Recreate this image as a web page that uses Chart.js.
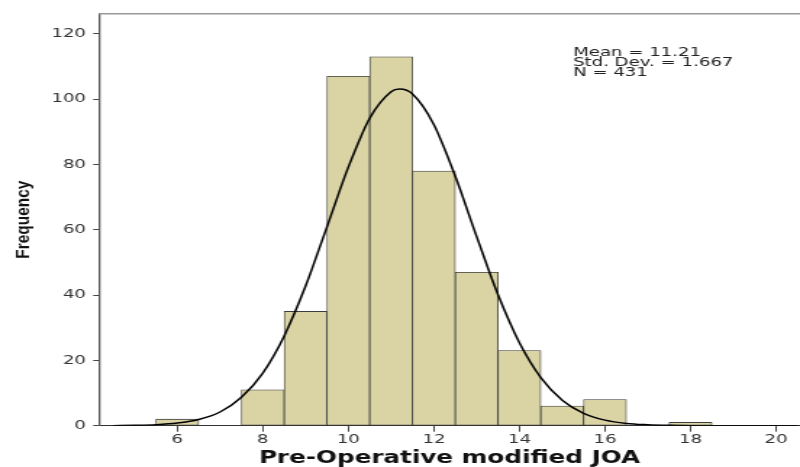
<!DOCTYPE html>
<html>
<head>
<meta charset="utf-8">
<script src="https://cdn.jsdelivr.net/npm/chart.js@4"></script>
<style>
  body { margin: 0; background: #fff; }
</style>
</head>
<body>
<!-- drawn narrow and stretched sideways, like the original export -->
<canvas id="chart" width="552" height="467" style="display:block;width:800px;height:467px"></canvas>
<script>
// histogram bins (centre of each 1-wide bin) and counts
const binCentres = [6, 8, 9, 10, 11, 12, 13, 14, 15, 16, 18];
const binCounts = [2, 11, 35, 107, 113, 78, 47, 23, 6, 8, 1];

// normal curve
const curveX = [4.5, 5, 5.5, 6, 6.5, 7, 7.5, 8, 8.5, 9, 9.5, 10, 10.5, 11, 11.2, 11.5, 12, 12.5,
    13, 13.5, 14, 14.5, 15, 15.5, 16, 16.5, 17, 17.5, 18, 18.5, 19, 19.5, 20, 20.5];
const curveY = [0, 0.1, 0.3, 0.8, 1.9, 4.2, 8.7, 16.1, 27.5, 42.8, 60.9, 79.2, 94.2, 102.3, 103.1, 101.6, 92.2, 76.4,
    57.9, 40.1, 25.4, 14.7, 7.8, 3.8, 1.7, 0.7, 0.3, 0.1, 0, 0, 0, 0, 0, 0];

const statLines = ['Mean = 11.21', 'Std. Dev. = 1.667', 'N = 431'];
const xTitle = 'Pre-Operative modified JOA';
const yTitle = 'Frequency';

const STRETCH = 800 / 552;

const extras = {
    id: 'extras',
    afterDraw(chart) {
        const ctx = chart.ctx;
        const a = chart.chartArea;
        ctx.save();
        // top frame line
        ctx.strokeStyle = '#9a9a9a';
        ctx.lineWidth = 1.5;
        ctx.beginPath();
        ctx.moveTo(a.left, a.top);
        ctx.lineTo(a.right, a.top);
        ctx.stroke();

        // stats box
        ctx.fillStyle = '#222';
        ctx.font = '12.5px "DejaVu Sans"';
        ctx.textBaseline = 'middle';
        ctx.textAlign = 'left';
        statLines.forEach((t, i) => ctx.fillText(t, 395.4, 53 + i * 10));

        // y title, undo the sideways stretch for it (narrow bold look)
        ctx.scale(1 / STRETCH, 1);
        ctx.translate(28.5, (a.top + a.bottom) / 2);
        ctx.rotate(-Math.PI / 2);
        ctx.font = 'bold 19.5px "Liberation Sans Narrow", "Liberation Sans", sans-serif';
        const w = ctx.measureText(yTitle).width;
        ctx.scale(78 / w, 1);
        ctx.textAlign = 'center';
        ctx.textBaseline = 'alphabetic';
        ctx.fillStyle = '#111';
        ctx.fillText(yTitle, 0, 0);
        ctx.restore();
    }
};

new Chart(document.getElementById('chart'), {
    type: 'bar',
    data: {
        datasets: [{
            type: 'line',
            data: curveX.map((x, i) => ({x: x, y: curveY[i]})),
            borderColor: '#000',
            borderWidth: 1.5,
            pointRadius: 0,
            cubicInterpolationMode: 'monotone',
            order: 1
        }, {
            type: 'bar',
            data: binCentres.map((x, i) => ({x: x, y: binCounts[i]})),
            backgroundColor: '#dad4a5',
            borderColor: '#3c3c3c',
            borderWidth: 0.8,
            borderSkipped: false,
            barPercentage: 1,
            categoryPercentage: 1,
            order: 2
        }]
    },
    options: {
        responsive: false,
        devicePixelRatio: 1,
        animation: false,
        layout: {padding: {top: 13.7, left: 0, right: 0, bottom: 0}},
        plugins: {legend: {display: false}, tooltip: {enabled: false}},
        scales: {
            x: {
                type: 'linear',
                min: 4.17,
                max: 20.56,
                offset: false,
                afterFit(scale) { scale.height = 41.3; },
                ticks: {
                    stepSize: 2,
                    includeBounds: false,
                    maxRotation: 0,
                    padding: 1,
                    color: '#333',
                    font: {family: 'DejaVu Sans', size: 12.5}
                },
                grid: {drawOnChartArea: false, offset: false, tickLength: 6, color: '#444'},
                border: {color: '#333', width: 1},
                title: {
                    display: true,
                    text: xTitle,
                    color: '#111',
                    padding: 0,
                    font: {family: 'DejaVu Sans', size: 17, weight: 'bold', lineHeight: 1}
                }
            },
            y: {
                min: 0,
                max: 126.2,
                afterFit(scale) { scale.width = 68.3; },
                ticks: {
                    stepSize: 20,
                    includeBounds: false,
                    padding: 5,
                    color: '#333',
                    font: {family: 'DejaVu Sans', size: 12.5}
                },
                grid: {drawOnChartArea: false, tickLength: 4, color: '#444'},
                border: {color: '#555', width: 1.3}
            }
        }
    },
    plugins: [extras]
});
</script>
</body>
</html>
